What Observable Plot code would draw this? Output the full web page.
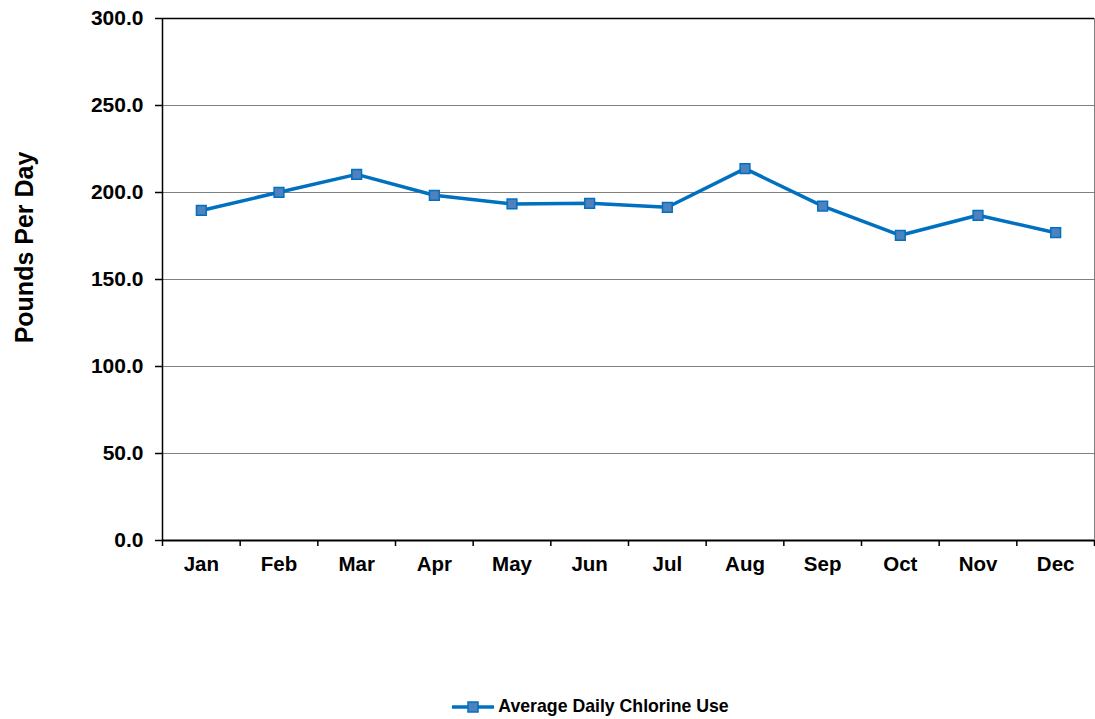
<!DOCTYPE html>
<html>
<head>
<meta charset="utf-8">
<script src="https://cdn.jsdelivr.net/npm/d3@7"></script>
<script src="https://cdn.jsdelivr.net/npm/@observablehq/plot@0.6"></script>
<style>
  html, body { margin: 0; padding: 0; background: #fff; }
  body { width: 1095px; height: 719px; overflow: hidden; font-family: "Liberation Sans", Arial, sans-serif; }
  #legend { display: flex; justify-content: center; align-items: center; gap: 3px;
            font-weight: bold; font-size: 17.7px; color: #000; padding-left: 85px; }
</style>
</head>
<body>
<div id="chart"></div>
<div id="legend"></div>
<script>
// Monthly average daily chlorine use (pounds per day)
const months = ["Jan", "Feb", "Mar", "Apr", "May", "Jun", "Jul", "Aug", "Sep", "Oct", "Nov", "Dec"];
const chlorine = [189.7, 200.1, 210.4, 198.4, 193.4, 193.8, 191.5, 213.7, 192.2, 175.4, 186.9, 176.9];
const yTicks = [0, 50, 100, 150, 200, 250, 300];
const seriesName = "Average Daily Chlorine Use";
const yTitle = "Pounds Per Day";

const lineColor = "#0070C0";
const markerFill = "#4F81BD";

const data = months.map((m, i) => ({month: m, pos: i + 0.5, value: chlorine[i]}));

const chart = Plot.plot({
  width: 1095,
  height: 600,
  marginLeft: 162,
  marginRight: 1,
  marginTop: 18,
  marginBottom: 60,
  style: {fontFamily: "'Liberation Sans', Arial, sans-serif", fontWeight: "bold", fontSize: "21px", color: "#000", background: "#fff"},
  x: {domain: [0, months.length], axis: null},
  y: {domain: [0, 300], axis: null},
  marks: [
    // horizontal gridlines
    Plot.ruleY(yTicks.filter(d => d > 0 && d < 300), {stroke: "#808080", strokeWidth: 1, strokeOpacity: 1}),
    // plot area border: black top, grey right
    Plot.ruleY([300], {stroke: "#000", strokeWidth: 1.5}),
    Plot.ruleX([months.length], {stroke: "#808080", strokeWidth: 1, strokeOpacity: 1}),
    // y axis
    Plot.axisY({ticks: yTicks, tickFormat: d => d.toFixed(1), tickSize: 7, tickPadding: 12,
                stroke: "#000", strokeOpacity: 1, strokeWidth: 1.5, label: null, fontSize: 21}),
    Plot.ruleX([0], {stroke: "#000", strokeWidth: 1.5}),
    // x axis: tick marks at month boundaries, labels centred between them
    Plot.axisX({ticks: d3.range(months.length + 1), tickFormat: () => "", tickSize: 6,
                stroke: "#000", strokeOpacity: 1, strokeWidth: 1.5, label: null}),
    Plot.axisX({ticks: data.map(d => d.pos), tickFormat: p => months[Math.floor(p)], tickSize: 0,
                tickPadding: 16, label: null, fontSize: 20.5}),
    Plot.ruleY([0], {stroke: "#000", strokeWidth: 2}),
    // y axis title
    Plot.text([yTitle], {frameAnchor: "left", textAnchor: "middle", dx: -138, dy: -32, rotate: -90,
                         fontSize: 25, fontWeight: "bold", fill: "#000"}),
    // series
    Plot.line(data, {x: "pos", y: "value", stroke: lineColor, strokeWidth: 3.5}),
    Plot.dot(data, {x: "pos", y: "value", symbol: "square", r: 5.5, fill: markerFill, stroke: lineColor, strokeWidth: 1.5})
  ]
});
document.getElementById("chart").appendChild(chart);

// legend below the chart
const legend = document.getElementById("legend");
legend.style.marginTop = "96px";
legend.innerHTML = `
  <svg width="44" height="14" viewBox="0 0 44 14">
    <line x1="1" y1="7" x2="43" y2="7" stroke="${lineColor}" stroke-width="3.5"/>
    <rect x="17" y="2" width="10" height="10" fill="${markerFill}" stroke="${lineColor}" stroke-width="1.5"/>
  </svg>
  <span>${seriesName}</span>`;
</script>
</body>
</html>
